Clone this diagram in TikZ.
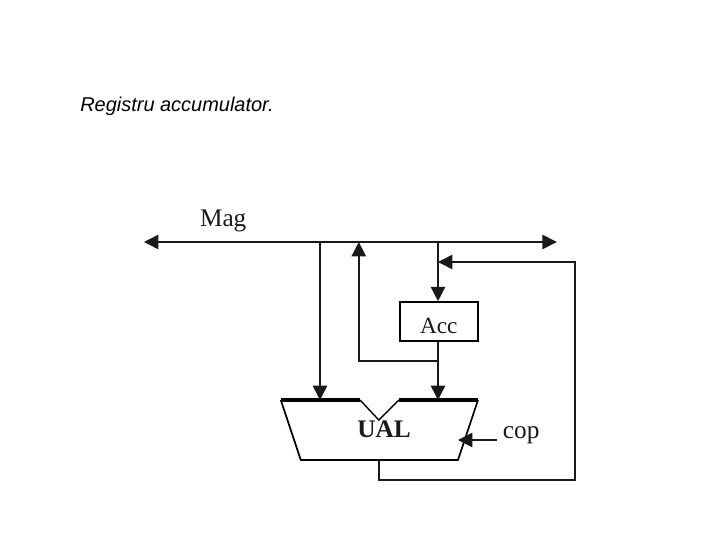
\documentclass[tikz,border=0pt]{standalone}
\usepackage{fontspec}
\setmainfont{Liberation Serif}
\setsansfont{Liberation Sans}
\usetikzlibrary{positioning,arrows.meta}

\begin{document}
\begin{tikzpicture}[
  line/.style={line width=1.1pt, draw=black!90},
  arrow/.style={line, -{Triangle[length=3.6mm, width=3.6mm]}},
  bothways/.style={line, {Triangle[length=3.6mm, width=3.6mm]}-{Triangle[length=3.6mm, width=3.6mm]}},
  label/.style={font=\fontsize{18}{21}\selectfont, text=black!90, inner sep=0pt},
  title/.style={font=\sffamily\itshape\fontsize{14.2}{17}\selectfont, anchor=west, inner sep=0pt},
  regbox/.style={draw=black, line width=1.3pt, minimum width=1.95cm, minimum height=0.975cm, inner sep=0pt},
]
\useasboundingbox (0,0) rectangle (18,13.5);

% Title
\node[title] (titlu) at (2.0, 10.83) {Registru accumulator.};

% Bus
\coordinate (busL) at (3.6, 7.45);
\coordinate (busR) at (13.92, 7.45);
\coordinate (busA) at (8.0, 7.45);
\coordinate (busB) at (8.97, 7.45);
\coordinate (busC) at (10.95, 7.45);
\draw[bothways] (busL) -- (busR);
\node[label] (mag) at (5.58, 7.98) {Mag};

% Register
\node[regbox] (acc) at (10.97, 5.46) {};
\node[label, font=\fontsize{16.5}{19}\selectfont] (acclabel) at (10.97, 5.34) {Acc};

% ALU outline
\coordinate (ualTL) at (7.02, 3.5);
\coordinate (ualN1) at (9.0, 3.5);
\coordinate (ualN2) at (9.47, 3.0);
\coordinate (ualN3) at (9.97, 3.5);
\coordinate (ualTR) at (11.95, 3.5);
\coordinate (ualBR) at (11.45, 2.0);
\coordinate (ualBL) at (7.52, 2.0);
\coordinate (ualIn1) at (8.0, 3.5);
\coordinate (ualIn2) at (10.95, 3.5);
\coordinate (ualOut) at (9.47, 2.0);
\coordinate (ualCtl) at (11.45, 2.5);
\draw[line width=1.2pt] (ualTR) -- (ualBR) -- (ualBL) -- (ualTL);
\draw[line width=1.0pt] (ualN1) -- (ualN2) -- (ualN3);
\draw[line width=2.2pt] (ualTL) -- (ualN1);
\draw[line width=2.2pt] (ualN3) -- (ualTR);
\node[label, font=\bfseries\fontsize{18}{21}\selectfont] (ual) at (9.6, 2.77) {UAL};

% Control input
\node[label] (cop) at (13.03, 2.62) {cop};
\coordinate (copEnd) at (12.42, 2.5);
\draw[arrow] (copEnd) -- (ualCtl);

% Data paths
\draw[arrow] (busA) -- (ualIn1);
\draw[arrow] (busC) -- (acc.north -| busC);
\draw[arrow] (acc.south -| busC) -- (ualIn2);

\coordinate (tap) at (10.95, 4.47);
\coordinate (tapL) at (8.97, 4.47);
\draw[arrow] (tap) -- (tapL) -- (busB);

% Feedback
\coordinate (fbA) at (9.47, 1.5);
\coordinate (fbB) at (14.38, 1.5);
\coordinate (fbC) at (14.38, 6.95);
\coordinate (fbD) at (10.95, 6.95);
\draw[arrow] (ualOut) -- (fbA) -- (fbB) -- (fbC) -- (fbD);

\end{tikzpicture}
\end{document}
